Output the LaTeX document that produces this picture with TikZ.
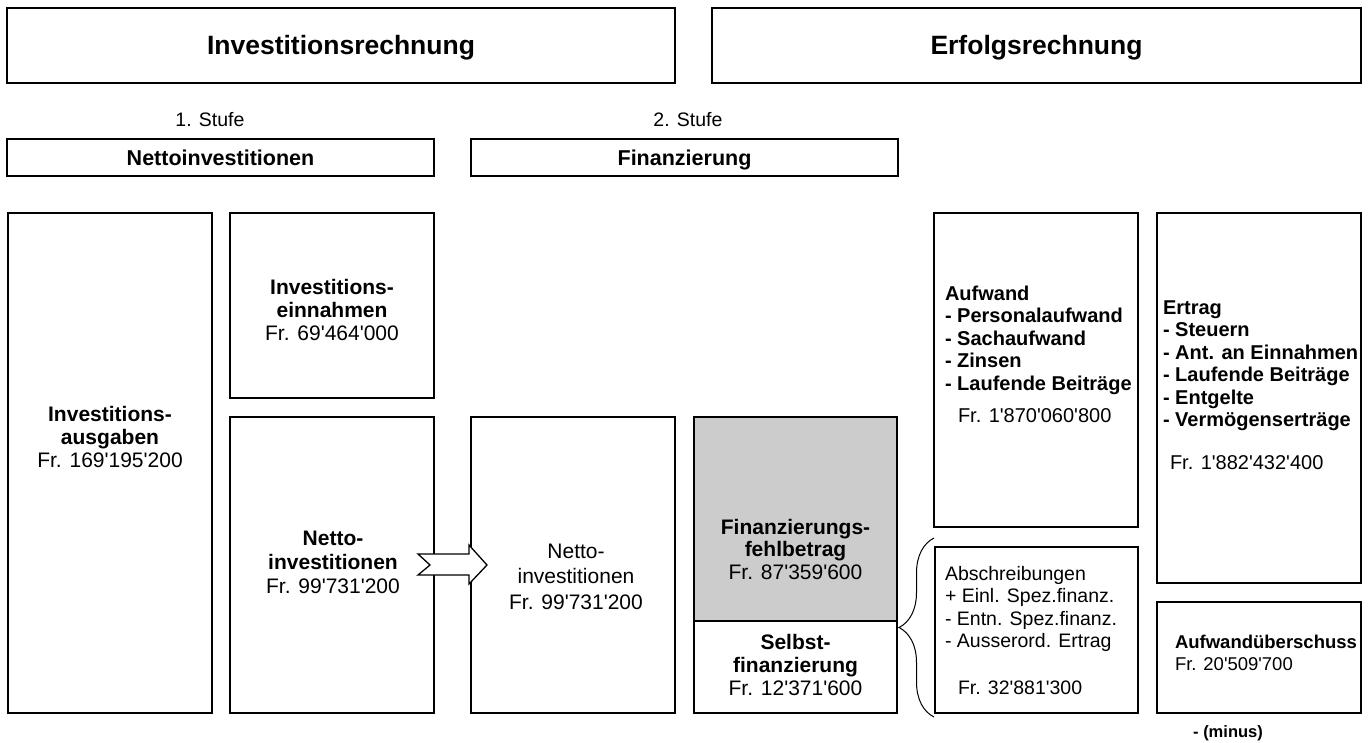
\documentclass[tikz,border=0pt]{standalone}
\usepackage{fontspec}
\setmainfont{Liberation Sans}[Ligatures=TeXOff]
\usetikzlibrary{calc,decorations.pathreplacing}
\newcommand\rsTitle{\fontsize{26.5}{30}\selectfont\bfseries}
\newcommand\rsHead{\fontsize{21.5}{25}\selectfont\bfseries}
\newcommand\rsStufe{\fontsize{19.5}{23}\selectfont}
\newcommand\rs{\strut}
\begin{document}
\begin{tikzpicture}[x=1pt,y=-1pt,
  box/.style={draw, line width=1.3pt, inner sep=0pt, outer sep=0pt},
  txt/.style={inner sep=0pt, outer sep=0pt, align=center, anchor=north},
  ltxt/.style={inner sep=0pt, outer sep=0pt, align=left, anchor=north west},
  lbl/.style={inner sep=0pt, outer sep=0pt, anchor=base}
]
\useasboundingbox (0,0) rectangle (1368,742);

% top boxes
\node[box, minimum width=668pt, minimum height=75pt] (invr) at (341,45.5) {};
\node[box, minimum width=649pt, minimum height=75pt] (erfr) at (1036.5,45.5) {};
\node[lbl, font=\rsTitle] (tinvr) at (341,54.5) {Investitionsrechnung};
\node[lbl, font=\rsTitle] (terfr) at (1036.5,54.5) {Erfolgsrechnung};

% stages
\node[lbl, font=\rsStufe] (st1) at (210,126.5) {1. Stufe};
\node[lbl, font=\rsStufe] (st2) at (688,126.5) {2. Stufe};
\node[box, minimum width=427pt, minimum height=37pt] (nettoh) at (220.5,157.5) {};
\node[box, minimum width=427pt, minimum height=37pt] (finh) at (684.5,157.5) {};
\node[lbl, font=\rsHead] (tnettoh) at (220.5,165) {Nettoinvestitionen};
\node[lbl, font=\rsHead] (tfinh) at (684.5,165) {Finanzierung};

% main boxes
\node[box, minimum width=204pt, minimum height=500pt] (ausg) at (110,463) {};
\node[box, minimum width=204pt, minimum height=185pt] (einn) at (332,305.5) {};
\node[box, minimum width=204pt, minimum height=296pt] (netto1) at (332,565) {};
\node[box, minimum width=204pt, minimum height=296pt] (netto2) at (573,565) {};
\node[box, fill={rgb,255:red,204;green,204;blue,204}, minimum width=203pt, minimum height=204pt] (fehl) at (795.5,519) {};
\node[box, minimum width=203pt, minimum height=92pt] (selbst) at (795.5,667) {};
\node[box, minimum width=204pt, minimum height=314pt] (aufw) at (1036,370) {};
\node[box, minimum width=204pt, minimum height=370pt] (ertr) at (1259,398) {};
\node[box, minimum width=203pt, minimum height=166pt] (abschr) at (1036.5,630) {};
\node[box, minimum width=204pt, minimum height=111pt] (ueber) at (1259,657.5) {};

% texts of centred boxes
\node[txt, font=\fontsize{21}{23}\selectfont] (tausg) at (110,405.5) {\rs\textbf{Investitions-}\\\rs\textbf{ausgaben}\\\rs Fr. 169'195'200};
\node[txt, font=\fontsize{21}{23}\selectfont] (teinn) at (332,278.5) {\rs\textbf{Investitions-}\\\rs\textbf{einnahmen}\\\rs Fr. 69'464'000};
\node[txt, font=\fontsize{21}{24}\selectfont] (tnetto1) at (333,528.7) {\rs\textbf{Netto-}\\\rs\textbf{investitionen}\\\rs Fr. 99'731'200};
\node[txt, font=\fontsize{21}{25.5}\selectfont] (tnetto2) at (576,540.6) {\rs Netto-\\\rs investitionen\\\rs Fr. 99'731'200};
\node[txt, font=\fontsize{21}{22.5}\selectfont] (tfehl) at (795.5,518.7) {\rs\textbf{Finanzierungs-}\\\rs\textbf{fehlbetrag}\\\rs Fr. 87'359'600};
\node[txt, font=\fontsize{21}{23}\selectfont] (tselbst) at (795.5,633.4) {\rs\textbf{Selbst-}\\\rs\textbf{finanzierung}\\\rs Fr. 12'371'600};

% texts of left aligned boxes
\node[ltxt, font=\fontsize{20}{22.5}\selectfont] (taufw) at (945,284.5) {\rs\textbf{Aufwand}\\\rs\textbf{- Personalaufwand}\\\rs\textbf{- Sachaufwand}\\\rs\textbf{- Zinsen}\\\rs\textbf{- Laufende Beiträge}\\[9.5pt]\rs\hspace*{13pt}Fr. 1'870'060'800};
\node[ltxt, font=\fontsize{20}{22.5}\selectfont] (tertr) at (1163,298.5) {\rs\textbf{Ertrag}\\\rs\textbf{- Steuern}\\\rs\textbf{- Ant. an Einnahmen}\\\rs\textbf{- Laufende Beiträge}\\\rs\textbf{- Entgelte}\\\rs\textbf{- Vermögenserträge}\\[20.5pt]\rs\hspace*{7pt}Fr. 1'882'432'400};
\node[ltxt, font=\fontsize{19.5}{22.5}\selectfont] (tabschr) at (945,564.3) {\rs Abschreibungen\\\rs + Einl. Spez.finanz.\\\rs - Entn. Spez.finanz.\\\rs - Ausserord. Ertrag\\[24.5pt]\rs\hspace*{13pt}Fr. 32'881'300};
\node[ltxt, font=\fontsize{18.5}{22}\selectfont] (tueber) at (1175,633.3) {\rs\textbf{Aufwandüberschuss}\\\rs Fr. 20'509'700};

% arrow from netto1 to netto2
\draw[line width=1.3pt, fill=white, line join=miter]
  ($(netto1.east)+(-16,-11)$) -- ++(51,0) -- ++(0,-9) -- ++(18,20) -- ++(-18,19)
  -- ++(0,-9) -- ++(-51,0) -- ++(12,-10) -- cycle;

% brace
\draw[line width=1pt, decorate, decoration={brace, amplitude=35pt}]
  ($(abschr.south west)+(-1,4)$) -- ($(abschr.north west)+(-1,-9)$);

\node[lbl, font=\fontsize{16.5}{19}\selectfont\bfseries] (minus) at (1228,737) {- (minus)};
\end{tikzpicture}
\end{document}
